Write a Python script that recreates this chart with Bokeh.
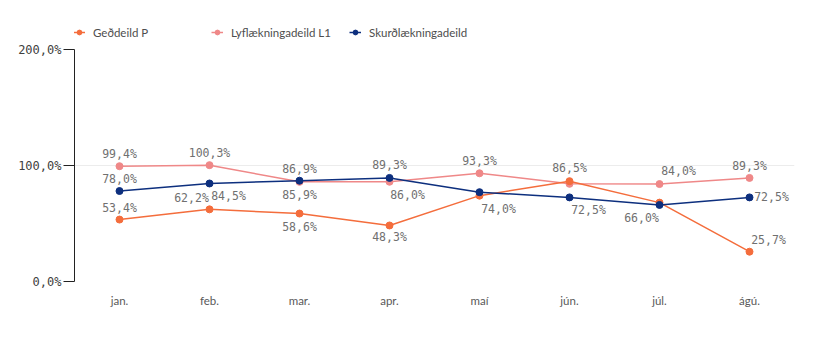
from bokeh.plotting import figure
from bokeh.layouts import column
from bokeh.core.properties import value
from bokeh.models import (ColumnDataSource, FactorRange, Range1d, FixedTicker,
                          CustomJSTickFormatter, Legend, LegendItem, LabelSet)
from bokeh.embed import file_html
from bokeh.resources import INLINE

months = ["jan.", "feb.", "mar.", "apr.", "maí", "jún.", "júl.", "ágú."]
series_names = ["Geðdeild P", "Lyflækningadeild L1", "Skurðlækningadeild"]
ged = [53.4, 62.2, 58.6, 48.3, 74.0, 86.5, 68.0, 25.7]
lyf = [99.4, 100.3, 85.9, 86.0, 93.3, 84.2, 84.0, 89.3]
skurd = [78.0, 84.5, 86.9, 89.3, 77.0, 72.5, 66.0, 72.5]
y_ticks = [0, 100, 200]
colors = ["#f46d3c", "#ef8888", "#0d2f7e"]

# which labels are shown (Qlik hides overlapping ones)
ged_show = [1, 1, 1, 1, 1, 1, 0, 1]
lyf_show = [1, 1, 1, 1, 1, 0, 1, 1]
skurd_show = [1, 1, 1, 1, 0, 1, 1, 1]
# label placement (screen px): dx, dy (up positive)
ged_dx = [0, -18, 0, 0, 19, 0, 0, 19]
ged_dy = [12, 11, -13, -12, -13, 13, 0, 12]
lyf_dx = [0, 0, 0, 18, 0, 0, 19, 0]
lyf_dy = [12, 12, -13, -13, 12, 0, 13, 12]
skurd_dx = [0, 19, 0, 0, 0, 19, -18, 22]
skurd_dy = [12, -13, 12, 13, 0, -13, -13, 0]

MONO = "DejaVu Sans Mono"
SANS = "Lato"

LEG_H = 42

p = figure(width=840, height=341 - LEG_H, x_range=FactorRange(*months, range_padding=0),
           y_range=Range1d(0, 200), output_backend="svg", toolbar_location=None,
           min_border_left=74, min_border_right=46, min_border_top=49 - LEG_H,
           min_border_bottom=60)
p.outline_line_color = None
p.background_fill_color = "white"
p.border_fill_color = "white"

# legend strip (frame aligned with main plot by the column layout)
lg = figure(width=840, height=LEG_H, x_range=FactorRange(*months, range_padding=0),
            y_range=Range1d(1000, 1001), output_backend="svg", toolbar_location=None,
            min_border_left=74, min_border_right=46, min_border_top=0, min_border_bottom=0)
lg.axis.visible = False
lg.grid.grid_line_color = None
lg.outline_line_color = None
lg.background_fill_color = "white"
lg.border_fill_color = "white"

def fmt(v):
    return f"{v:.1f}".replace(".", ",") + "%"

data = [ged, lyf, skurd]
shows = [ged_show, lyf_show, skurd_show]
dxs = [ged_dx, lyf_dx, skurd_dx]
dys = [ged_dy, lyf_dy, skurd_dy]
leg_r = {}
for idx in [1, 0, 2]:
    vals = data[idx]
    src = ColumnDataSource(dict(
        x=months, y=vals,
        t=[fmt(v) if s else "" for v, s in zip(vals, shows[idx])],
        dx=dxs[idx], dy=dys[idx]))
    p.line("x", "y", source=src, line_color=colors[idx], line_width=1.5)
    p.scatter("x", "y", source=src, size=7, fill_color=colors[idx],
              line_color=colors[idx])
    lbl = LabelSet(x="x", y="y", text="t", source=src, x_offset="dx", y_offset="dy",
                   text_align="center", text_baseline="middle",
                   text_font=value(MONO), text_font_size="11.5px", text_color="#707070")
    p.add_layout(lbl)
    # off-screen copies used only for the legend glyphs
    ln = lg.line("x", "y", source=src, line_color=colors[idx], line_width=1.5)
    sc = lg.scatter("x", "y", source=src, size=7, fill_color=colors[idx],
                    line_color=colors[idx])
    leg_r[idx] = [ln, sc]

p.xgrid.grid_line_color = None
p.ygrid.grid_line_color = "#ececec"
p.ygrid.ticker = FixedTicker(ticks=y_ticks)

p.yaxis.ticker = FixedTicker(ticks=y_ticks)
p.yaxis.formatter = CustomJSTickFormatter(code="return tick.toFixed(1).replace('.', ',') + '%';")
p.yaxis.axis_line_color = "#222222"
p.yaxis.major_tick_line_color = "#222222"
p.yaxis.major_tick_out = 11
p.yaxis.major_tick_in = 0
p.yaxis.minor_tick_line_color = None
p.yaxis.major_label_text_font = MONO
p.yaxis.major_label_text_font_size = "12px"
p.yaxis.major_label_text_color = "#404040"
p.yaxis.major_label_standoff = 2

p.xaxis.axis_line_color = None
p.xaxis.major_tick_line_color = None
p.xaxis.minor_tick_line_color = None
p.xaxis.major_label_text_font = SANS
p.xaxis.major_label_text_font_size = "11.5px"
p.xaxis.major_label_text_color = "#595959"
p.xaxis.major_label_standoff = 6

items = [LegendItem(label=series_names[i], renderers=leg_r[i]) for i in range(3)]
legend = Legend(items=items, orientation="horizontal", location=(-1, LEG_H - 39),
                glyph_width=12, glyph_height=12, label_standoff=8, label_width=118,
                label_height=14, spacing=0, padding=0, margin=0,
                label_text_font=SANS, label_text_font_size="11.5px",
                label_text_color="#4d4d4d", border_line_color=None,
                background_fill_alpha=0)
lg.add_layout(legend, "center")

layout = column(lg, p, spacing=0)
open("out.html", "w").write(file_html(layout, INLINE))
